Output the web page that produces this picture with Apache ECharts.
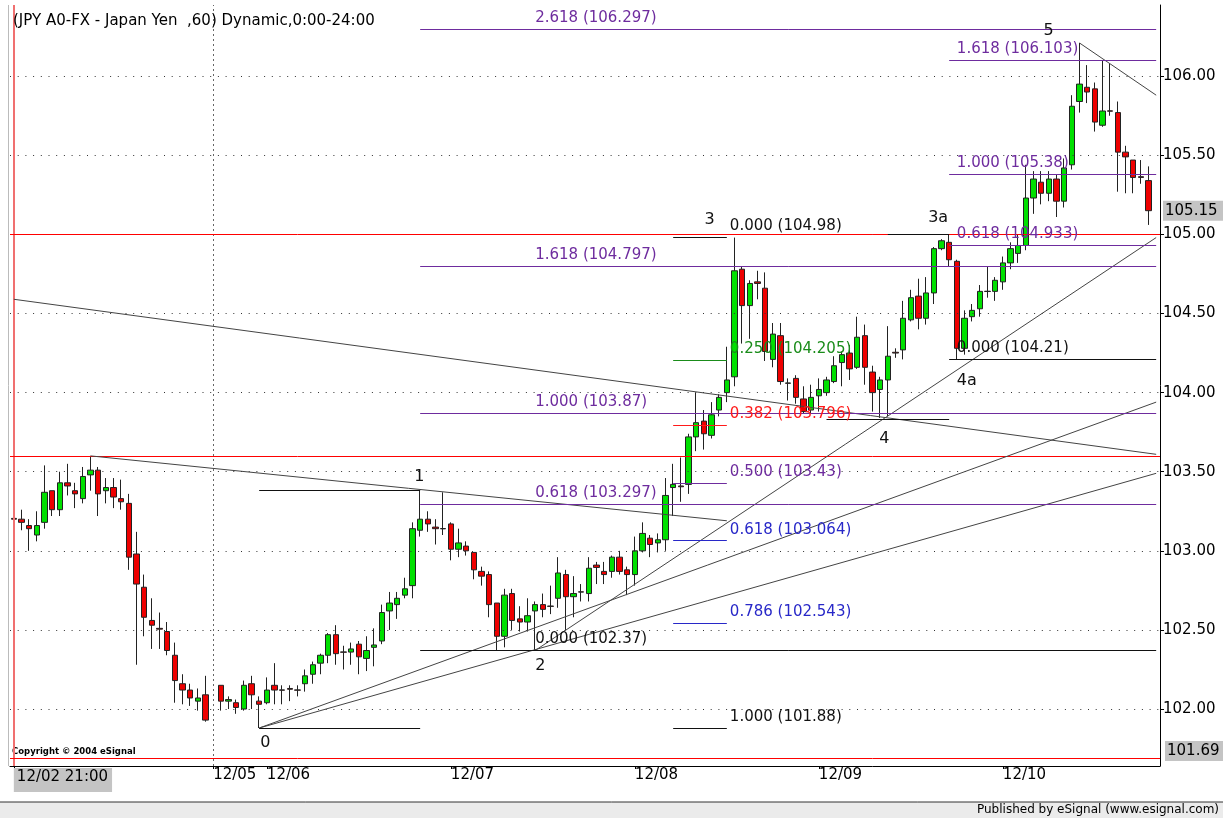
<!DOCTYPE html>
<html>
<head>
<meta charset="utf-8">
<script src="https://cdn.jsdelivr.net/npm/echarts@6/dist/echarts.min.js"></script>
<style>
  html, body { margin: 0; padding: 0; background: #fff; }
  #chart { width: 1223px; height: 818px; }
</style>
</head>
<body>
<div id="chart"></div>
<script>
// hourly JPY bars, one slot per hour; null = empty slot (weekend gap / right margin)
const opens = [
  103.205, 103.20, 103.16, 103.10, 103.18, 103.38, 103.26, 103.43, 103.38, 103.33,
  103.48, 103.51, 103.38, 103.40, 103.33, 103.30, 102.98, 102.77, 102.56, 102.51,
  102.49, 102.34, 102.16, 102.12, 102.05, 102.09, null, 102.15, 102.05, 102.04,
  102.00, 102.16, 102.05, 102.04, 102.15, 102.121, 102.13, 102.121, 102.16, 102.22,
  102.29, 102.34, 102.47, 102.361, 102.36, 102.41, 102.32, 102.39, 102.43, 102.62,
  102.66, 102.72, 102.78, 103.13, 103.20, 103.15, 103.141, 103.17, 103.01, 103.03,
  102.99, 102.87, 102.85, 102.67, 102.46, 102.73, 102.57, 102.55, 102.62, 102.66,
  102.651, 102.70, 102.85, 102.71, 102.741, 102.73, 102.91, 102.87, 102.87, 102.96,
  102.88, 102.85, 103.00, 103.08, 103.05, 103.07, 103.40, 103.41, 103.42, 103.72,
  103.82, 103.73, 103.89, 104.00, 104.10, 104.78, 104.55, 104.70, 104.66, 104.21,
  104.36, 104.061, 104.09, 103.96, 103.89, 103.98, 104.00, 104.07, 104.19, 104.25,
  104.16, 104.36, 104.13, 104.02, 104.08, 104.255, 104.27, 104.46, 104.61, 104.47,
  104.63, 104.91, 104.95, 104.83, 104.28, 104.48, 104.53, 104.641, 104.64, 104.70,
  104.82, 104.88, 104.93, 105.23, 105.33, 105.26, 105.35, 105.21, 105.44, 105.84,
  105.93, 105.92, 105.69, 105.781, 105.77, 105.52, 105.47, 105.365, 105.34, null
];
const closes = [
  103.20, 103.18, 103.14, 103.16, 103.37, 103.26, 103.43, 103.41, 103.36, 103.47,
  103.51, 103.36, 103.40, 103.34, 103.31, 102.96, 102.79, 102.58, 102.53, 102.505,
  102.37, 102.18, 102.12, 102.07, 102.07, 101.93, null, 102.05, 102.06, 102.01,
  102.15, 102.09, 102.03, 102.12, 102.12, 102.119, 102.125, 102.119, 102.21, 102.28,
  102.34, 102.47, 102.35, 102.359, 102.38, 102.33, 102.37, 102.405, 102.61, 102.67,
  102.70, 102.76, 103.14, 103.20, 103.17, 103.14, 103.139, 103.01, 103.05, 103.00,
  102.88, 102.84, 102.66, 102.46, 102.72, 102.56, 102.55, 102.59, 102.66, 102.63,
  102.649, 102.86, 102.71, 102.73, 102.739, 102.89, 102.895, 102.85, 102.96, 102.87,
  102.85, 103.00, 103.11, 103.04, 103.07, 103.35, 103.42, 103.405, 103.72, 103.81,
  103.74, 103.86, 103.97, 104.08, 104.77, 104.55, 104.69, 104.69, 104.26, 104.37,
  104.07, 104.059, 103.97, 103.88, 103.97, 104.02, 104.08, 104.17, 104.24, 104.15,
  104.35, 104.16, 104.00, 104.08, 104.23, 104.25, 104.47, 104.60, 104.47, 104.63,
  104.91, 104.96, 104.84, 104.28, 104.47, 104.52, 104.64, 104.639, 104.71, 104.82,
  104.91, 104.93, 105.23, 105.35, 105.26, 105.35, 105.21, 105.42, 105.81, 105.95,
  105.90, 105.71, 105.78, 105.779, 105.52, 105.49, 105.36, 105.36, 105.15, null
];
const lows = [
  103.195, 103.13, 103.00, 103.06, 103.14, 103.22, 103.22, 103.35, 103.27, 103.30,
  103.38, 103.22, 103.30, 103.27, 103.26, 102.88, 102.28, 102.46, 102.38, 102.38,
  102.34, 102.04, 102.03, 102.02, 101.99, 101.92, null, 101.99, 102.00, 101.97,
  101.99, 102.00, 101.88, 102.03, 102.03, 102.03, 102.05, 102.08, 102.11, 102.16,
  102.22, 102.29, 102.28, 102.25, 102.28, 102.22, 102.24, 102.27, 102.41, 102.50,
  102.57, 102.70, 102.70, 103.09, 103.12, 103.04, 103.10, 102.94, 102.96, 102.97,
  102.82, 102.78, 102.58, 102.37, 102.39, 102.50, 102.49, 102.49, 102.37, 102.58,
  102.60, 102.64, 102.50, 102.58, 102.68, 102.68, 102.79, 102.79, 102.83, 102.85,
  102.72, 102.78, 102.99, 102.96, 102.99, 103.00, 103.22, 103.31, 103.36, 103.63,
  103.64, 103.71, 103.85, 103.94, 104.04, 104.31, 104.34, 104.59, 104.20, 104.16,
  104.05, 103.95, 103.93, 103.87, 103.87, 103.88, 103.98, 104.06, 104.04, 104.08,
  104.15, 104.05, 103.88, 103.84, 103.85, 104.22, 104.21, 104.45, 104.40, 104.43,
  104.56, 104.90, 104.80, 104.21, 104.24, 104.45, 104.48, 104.60, 104.58, 104.65,
  104.78, 104.82, 104.90, 105.13, 105.19, 105.21, 105.11, 105.17, 105.41, 105.77,
  105.83, 105.65, 105.68, 105.75, 105.27, 105.26, 105.26, 105.32, 105.06, null
];
const highs = [
  103.215, 103.26, 103.20, 103.25, 103.54, 103.38, 103.50, 103.55, 103.43, 103.53,
  103.60, 103.53, 103.46, 103.46, 103.45, 103.36, 103.12, 102.85, 102.70, 102.61,
  102.55, 102.42, 102.22, 102.16, 102.13, 102.21, null, 102.15, 102.08, 102.06,
  102.18, 102.21, 102.08, 102.20, 102.29, 102.15, 102.15, 102.15, 102.25, 102.30,
  102.35, 102.48, 102.53, 102.40, 102.42, 102.43, 102.46, 102.51, 102.66, 102.74,
  102.74, 102.83, 103.18, 103.38, 103.25, 103.20, 103.37, 103.18, 103.14, 103.06,
  102.99, 102.90, 102.87, 102.67, 102.76, 102.76, 102.65, 102.70, 102.68, 102.73,
  102.78, 102.96, 102.88, 102.84, 102.79, 102.96, 102.93, 102.93, 102.97, 103.00,
  102.90, 103.09, 103.18, 103.10, 103.11, 103.46, 103.55, 103.59, 103.74, 104.00,
  103.89, 103.94, 103.99, 104.29, 104.98, 104.80, 104.71, 104.77, 104.76, 104.44,
  104.44, 104.09, 104.11, 104.04, 104.05, 104.09, 104.10, 104.23, 104.26, 104.30,
  104.48, 104.43, 104.17, 104.10, 104.42, 104.28, 104.58, 104.65, 104.72, 104.73,
  104.92, 104.97, 105.00, 104.84, 104.52, 104.56, 104.68, 104.80, 104.73, 104.86,
  104.95, 105.00, 105.44, 105.40, 105.40, 105.40, 105.38, 105.48, 105.88, 106.21,
  106.07, 105.96, 106.10, 106.08, 105.84, 105.56, 105.47, 105.47, 105.43, null
];

// x axis: date boundaries (slot index) and their labels
const tickSlots = [0, 26, 33, 57, 81, 105, 129];
const tickLabels = ['12/02 21:00', '12/05', '12/06', '12/07', '12/08', '12/09', '12/10'];

// y axis
const priceTicks = [102.0, 102.5, 103.0, 103.5, 104.0, 104.5, 105.0, 105.5, 106.0];
const lastPrice = 105.15;
const lowMark = 101.69;
const redLevels = [105.00, 103.60];

// fib projections: [label, level]
const fibLong = [['2.618', 106.297], ['1.618', 104.797], ['1.000', 103.87], ['0.618', 103.297]];
const fibLongBase = ['0.000', 102.37];
const fibRight = [['1.618', 106.103], ['1.000', 105.38], ['0.618', 104.933]];
const fibRightBase = ['0.000', 104.21];
const fibShort = [
  ['0.000', 104.98, 'black'], ['0.250', 104.205, 'green'], ['0.382', 103.796, 'red'],
  ['0.500', 103.43, 'purple'], ['0.618', 103.064, 'blue'], ['0.786', 102.543, 'blue'],
  ['1.000', 101.88, 'black']
];

// elliott wave pivots: [name, slot, price]
const waves = [['0', 32, 101.88], ['1', 53, 103.38], ['2', 68, 102.37], ['3', 94, 104.98],
  ['3a', 122, 105.00], ['4', 113, 103.84], ['4a', 123, 104.21], ['5', 139, 106.21]];

// trend lines: [slot1, price1, slot2, price2]
const trendLines = [
  [0, 104.59, 149, 103.61],
  [10, 103.60, 93, 103.19],
  [32, 101.88, 149, 103.49],
  [32, 101.88, 149, 103.94],
  [68, 102.37, 149, 104.98],
  [139, 106.21, 149, 105.88]
];

const categories = opens.map((_, i) => String(i));
const bars = opens.map((o, i) => o == null ? '-' : [o, closes[i], lows[i], highs[i]]);

const END = 149;
const COL = { purple: '#6e2c9e', black: '#111', green: '#1a8c1a', red: '#ff1a1a', blue: '#2828c8' };
const FONT = 'DejaVu Sans';

function seg(x1, y1, x2, y2, color, width, type) {
  return [{ coord: [x1, y1], lineStyle: { color: color, width: width || 1, type: type || 'solid' } },
          { coord: [x2, y2] }];
}
function fmt(name, v) { return name + ' (' + v + ')'; }
function tag(slot, v, text, color, dx, dy, size) {
  return {
    coord: [slot, v], symbolSize: 0,
    label: { show: true, formatter: text, color: color, position: 'right', distance: 0,
             offset: [dx || 0, dy == null ? -11 : dy], fontSize: size || 15, fontFamily: FONT }
  };
}

const lines = [];
const tags = [];
// dotted price grid
priceTicks.forEach(v => lines.push({ yAxis: v, lineStyle: { color: '#333', type: [1, 6.7], width: 1 } }));
// day break
lines.push({ xAxis: 26, lineStyle: { color: '#666', type: [2, 3], width: 1 } });
lines.push({ xAxis: 0, lineStyle: { color: '#f07070', type: 'solid', width: 2 } });
// red horizontal levels
redLevels.forEach(v => lines.push({ yAxis: v, lineStyle: { color: '#ff0000', width: 1, type: 'solid' } }));
lines.push({
  yAxis: lowMark, lineStyle: { color: '#ff0000', width: 1, type: 'solid' },
  label: { show: true, position: 'end', distance: 5, offset: [0, -7], formatter: lowMark.toFixed(2),
           backgroundColor: '#c4c4c4', padding: [3, 6, 2, 2], color: '#000', fontSize: 15, fontFamily: FONT }
});
// trend lines
trendLines.forEach(t => lines.push(seg(t[0], t[1], t[2], t[3], '#444', 1)));
// pivot anchors
lines.push(seg(32, 103.38, 53, 103.38, '#111', 1));
lines.push(seg(32, 101.88, 53, 101.88, '#111', 1));
lines.push(seg(114, 105.0, 122, 105.0, '#111', 1));
lines.push(seg(106, 103.83, 122, 103.83, '#111', 1));
// long fib set
fibLong.forEach(f => { lines.push(seg(53, f[1], END, f[1], COL.purple, 1)); tags.push(tag(68, f[1], fmt(f[0], f[1]), COL.purple)); });
lines.push(seg(53, fibLongBase[1], END, fibLongBase[1], COL.black, 1));
tags.push(tag(68, fibLongBase[1], fmt(fibLongBase[0], fibLongBase[1]), COL.black));
// right fib set
fibRight.forEach(f => { lines.push(seg(122, f[1], END, f[1], COL.purple, 1)); tags.push(tag(123, f[1], fmt(f[0], f[1]), COL.purple)); });
lines.push(seg(122, fibRightBase[1], END, fibRightBase[1], COL.black, 1));
tags.push(tag(123, fibRightBase[1], fmt(fibRightBase[0], fibRightBase[1]), COL.black));
// short retracement set
fibShort.forEach(f => { lines.push(seg(86, f[1], 93, f[1], COL[f[2]], 1)); tags.push(tag(93, f[1], fmt(f[0], f[1]), COL[f[2]], 3)); });
// wave names
const waveOffsets = { '0': [1, 15], '1': [-6, -14], '2': [0, 15], '3': [-30, -18], '3a': [-21, -17], '4': [-1, 21], '4a': [0, 21], '5': [-36, -12] };
waves.forEach(w => tags.push(tag(w[1], w[2], w[0], '#111', waveOffsets[w[0]][0], waveOffsets[w[0]][1], 16)));

const chart = echarts.init(document.getElementById('chart'));
chart.setOption({
  animation: false,
  backgroundColor: '#ffffff',
  textStyle: { fontFamily: FONT },
  title: {
    text: '(JPY A0-FX - Japan Yen  ,60) Dynamic,0:00-24:00',
    left: 8, top: 9,
    textStyle: { fontSize: 15, fontWeight: 'normal', color: '#000', fontFamily: FONT }
  },
  grid: { left: 10, right: 63, top: 5, bottom: 52, outerBoundsMode: 'none', containLabel: false },
  xAxis: {
    type: 'category',
    data: categories,
    boundaryGap: true,
    axisLine: { lineStyle: { color: '#000', width: 1 } },
    axisTick: { show: true, interval: i => tickSlots.includes(i), length: 3, alignWithLabel: true, lineStyle: { color: '#000' } },
    axisLabel: {
      interval: i => tickSlots.includes(i),
      formatter: (v, i) => {
        const k = tickSlots.indexOf(i);
        if (k < 0) return '';
        return k === 0 ? '{first|' + tickLabels[k] + '}' : tickLabels[k];
      },
      align: 'left',
      margin: 2,
      color: '#000',
      fontSize: 15,
      fontFamily: FONT,
      rich: { first: { backgroundColor: '#c4c4c4', padding: [2, 4, 7, 3], fontSize: 15, fontFamily: FONT, color: '#000' } }
    },
    splitLine: { show: false }
  },
  yAxis: {
    type: 'value',
    position: 'right',
    min: 101.64,
    max: 106.45,
    scale: true,
    axisLine: { show: true, lineStyle: { color: '#000', width: 1 } },
    axisTick: { show: true, customValues: priceTicks, length: 4, lineStyle: { color: '#000' } },
    axisLabel: {
      customValues: priceTicks.concat([lastPrice]),
      formatter: v => {
        const s = v.toFixed(2);
        return Math.abs(v - lastPrice) < 1e-6 ? '{hl|' + s + '}' : s;
      },
      margin: 3,
      color: '#000',
      fontSize: 15,
      fontFamily: FONT,
      rich: {
        hl: { backgroundColor: '#c4c4c4', padding: [3, 6, 2, 2], fontSize: 15, fontFamily: FONT, color: '#000' }
      }
    },
    splitLine: { show: false }
  },
  series: [{
    type: 'candlestick',
    data: bars,
    barWidth: 6,
    itemStyle: {
      color: '#00e000', color0: '#ee0000',
      borderColor: '#222', borderColor0: '#222', borderColorDoji: '#222', borderWidth: 1
    },
    markLine: {
      silent: true, symbol: ['none', 'none'], animation: false,
      label: { show: false },
      data: lines
    },
    markPoint: {
      silent: true, animation: false, symbol: 'circle', symbolSize: 0,
      itemStyle: { color: 'rgba(0,0,0,0)' },
      data: tags
    }
  }],
  graphic: [
    { type: 'text', left: 12, top: 747, style: { text: 'Copyright \u00a9 2004 eSignal', font: 'bold 8.5px ' + FONT, fill: '#000' } },
    { type: 'rect', left: 0, top: 802, shape: { width: 1223, height: 16 }, style: { fill: '#ebebeb', stroke: null } },
    { type: 'line', shape: { x1: 0, y1: 802, x2: 1223, y2: 802 }, style: { stroke: '#333', lineWidth: 1 } },
    { type: 'text', right: 4, top: 804, style: { text: 'Published by eSignal (www.esignal.com)', font: '12px ' + FONT, fill: '#000' } },
    { type: 'line', shape: { x1: 8.5, y1: 5, x2: 8.5, y2: 766 }, style: { stroke: '#bbb', lineWidth: 1 } }
  ]
});
</script>
</body>
</html>
